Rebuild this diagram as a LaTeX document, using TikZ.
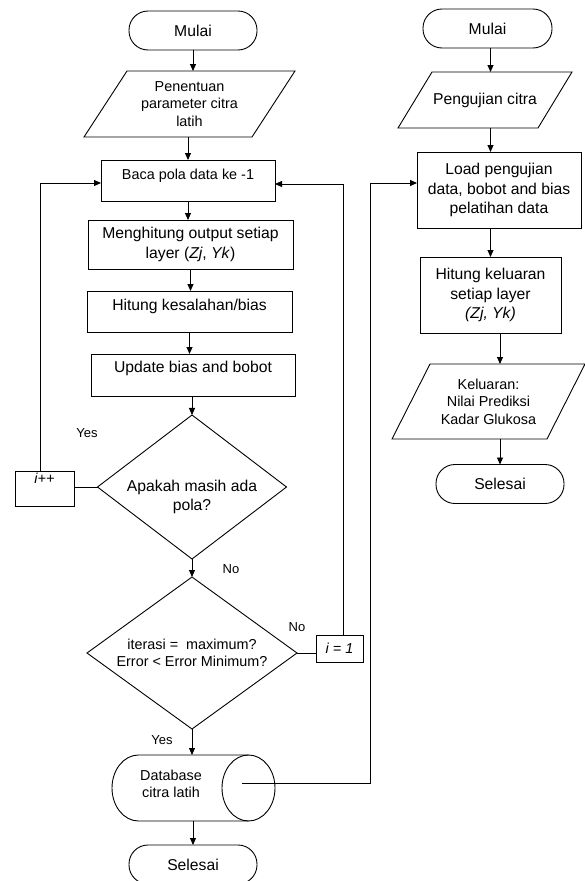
\documentclass[tikz,border=0pt]{standalone}
\usepackage{fontspec}
\setmainfont{Liberation Sans}
\usetikzlibrary{shapes.geometric,arrows.meta,calc}
\newcommand{\pgramdraw}[2]{\draw ($(#1.north west)+(#2,0)$) -- (#1.north east) -- ($(#1.south east)-(#2,0)$) -- (#1.south west) -- cycle;}
\begin{document}
\begin{tikzpicture}[x=1pt,y=-1pt,line width=0.9pt,
  every node/.style={inner sep=0pt, outer sep=0pt},
  fbig/.style={font=\fontsize{15.7}{19.5}\selectfont},
  fsmall/.style={font=\fontsize{14.4}{17.5}\selectfont},
  flab/.style={font=\fontsize{13}{15}\selectfont},
  term/.style={draw, rounded corners=19pt, minimum width=#1, minimum height=39, fbig},
  fbox/.style={draw, rectangle, align=center},
  arr/.style={-{Triangle[length=7pt,width=6pt]}}]
\useasboundingbox (0,0) rectangle (585,881);
\clip (0,0) rectangle (585,881);

% ---------- left column ----------
\node[term=128] (mulaiL) at (193,30.5) {Mulai};
\node[minimum width=211, minimum height=66, fsmall, align=center] (paramL) at (189.5,104) {Penentuan\\parameter citra\\latih};
\pgramdraw{paramL}{43}
\node[fbox, fsmall, minimum width=174, minimum height=41, text height=11pt, text depth=14pt] (baca) at (188,180.5) {Baca pola data ke -1};
\node[fbox, fbig, minimum width=205, minimum height=49] (hout) at (190.5,244.5) {Menghitung output setiap\\layer (\textit{Zj}, \textit{Yk})};
\node[fbox, fbig, minimum width=205, minimum height=41, text height=11pt, text depth=14pt] (kes) at (189.5,311.5) {Hitung kesalahan/bias};
\node[fbox, fbig, minimum width=204, minimum height=42, text height=11pt, text depth=17pt] (upd) at (193,375) {Update bias and bobot};
\node[draw, diamond, minimum width=189, minimum height=144] (d1) at (192,487) {};
\node[fbig, align=center] (d1text) at (192,497) {Apakah masih ada\\pola?};
\node[fbox, fsmall, minimum width=59, minimum height=35, text height=11pt, text depth=21pt] (ipp) at (44.5,488.5) {\textit{i++}};
\node[draw, diamond, aspect=1.4, minimum width=210, minimum height=152, fsmall, align=center] (d2) at (192,653) {iterasi = \ maximum?\\Error < Error Minimum?};
\node[fbox, fsmall, minimum width=47, minimum height=27] (i1) at (339.5,648.5) {\textit{i = 1}};
\node[flab] (yes1) at (87,433) {Yes};
\node[flab] (no1) at (231,569) {No};
\node[flab] (no2) at (297,627) {No};
\node[flab] (yes2) at (162,740) {Yes};
\node[minimum width=163, minimum height=66] (db) at (193.5,788) {};
\draw (248.5,755) -- (138.5,755) arc[start angle=90, end angle=270, x radius=26.5pt, y radius=33pt] -- (248.5,821);
\draw (248.5,788) ellipse [x radius=26.5pt, y radius=33pt];
\node[fsmall, align=center] (dbtext) at (171,784) {Database\\citra latih};
\node[term=128] (selL) at (193,864.5) {Selesai};

% ---------- right column ----------
\node[term=129] (mulaiR) at (487.5,28.5) {Mulai};
\node[minimum width=174, minimum height=56, fbig] (peng) at (485,100) {Pengujian citra};
\pgramdraw{peng}{34}
\node[fbox, fbig, minimum width=164, minimum height=76] (load) at (499,190) {Load pengujian\\data, bobot and bias\\pelatihan data};
\node[fbox, fbig, minimum width=141, minimum height=76] (hr) at (490.5,295) {Hitung keluaran\\setiap layer\\\textit{(Zj, Yk)}};
\node[minimum width=193, minimum height=75, fsmall, align=center] (kel) at (488.5,401.5) {Keluaran:\\Nilai Prediksi\\Kadar Glukosa};
\pgramdraw{kel}{38}
\node[term=128] (selR) at (500,484) {Selesai};

% ---------- connectors left ----------
\draw[arr] (mulaiL) -- (mulaiL |- paramL.north);
\draw[arr] (paramL.south -| baca) -- (baca);
\draw[arr] (baca) -- (baca |- hout.north);
\draw[arr] (hout) -- (hout |- kes.north);
\draw[arr] (kes) -- (kes |- upd.north);
\draw[arr] (upd.south -| d1) -- (d1);
\draw[arr] (d1) -- (d2);
\draw[arr] (d2) -- (d2 |- db.north);
\draw[arr] (db.south -| selL) -- (selL);
\draw (d1.west) -- (d1.west -| ipp.east);
\draw (d2.east) -- (d2.east -| i1.west);
\coordinate (j2) at (40,183);
\draw[arr] (ipp.north -| j2) -- (j2) -- (j2 -| baca.west);
\coordinate (j3) at (343,184);
\draw[arr] (i1.north -| j3) -- (j3) -- (j3 -| baca.east);
\coordinate (dbout) at (242,783);
\coordinate (j1) at (370,183);
\draw[arr] (dbout) -| (j1) -- (j1 -| load.west);

% ---------- connectors right ----------
\draw[arr] (mulaiR.south -| hr.north) -- (peng.north -| hr.north);
\draw[arr] (peng.south -| hr.north) -- (load.north -| hr.north);
\draw[arr] (load.south -| hr.north) -- (hr.north);
\draw[arr] (hr.south -| selR.north) -- (kel.north -| selR.north);
\draw[arr] (kel.south -| selR.north) -- (selR.north);
\end{tikzpicture}
\end{document}
